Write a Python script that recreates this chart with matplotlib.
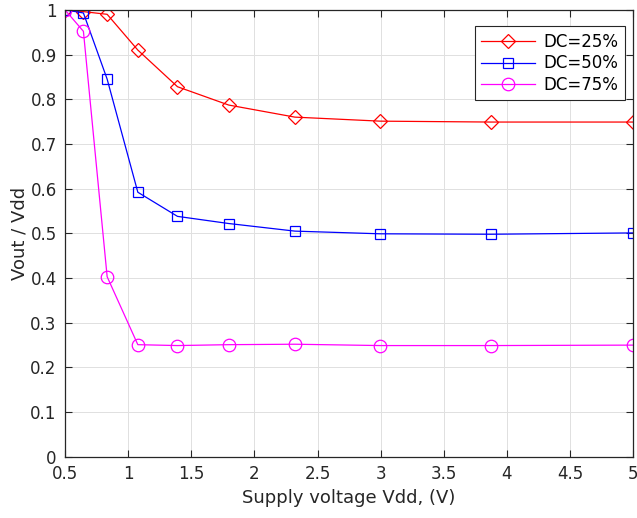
import matplotlib
matplotlib.use("Agg")
import matplotlib.pyplot as plt

vdd = [0.5, 0.646, 0.834, 1.077, 1.391, 1.797, 2.321, 2.997, 3.871, 5.0]
dc25 = [1.0, 0.996, 0.990, 0.910, 0.828, 0.787, 0.760, 0.751, 0.749, 0.749]
dc50 = [1.0, 0.993, 0.845, 0.592, 0.538, 0.522, 0.505, 0.499, 0.498, 0.501]
dc75 = [1.0, 0.952, 0.403, 0.251, 0.249, 0.251, 0.252, 0.249, 0.249, 0.250]

xticks = [0.5, 1, 1.5, 2, 2.5, 3, 3.5, 4, 4.5, 5]
yticks = [0, 0.1, 0.2, 0.3, 0.4, 0.5, 0.6, 0.7, 0.8, 0.9, 1]

axc = (0.15, 0.15, 0.15)
fig = plt.figure(figsize=(6.37, 5.18), dpi=100)
ax = fig.add_axes([0.102, 0.118, 0.892, 0.863])

ax.plot(vdd, dc25, color='red', lw=0.9, marker='D', ms=7.5, mfc='none', mew=0.9, label='DC=25%')
ax.plot(vdd, dc50, color='blue', lw=0.9, marker='s', ms=7, mfc='none', mew=0.9, label='DC=50%')
ax.plot(vdd, dc75, color='magenta', lw=0.9, marker='o', ms=9, mfc='none', mew=0.9, label='DC=75%')

ax.set_xlim(0.5, 5)
ax.set_ylim(0, 1)
ax.set_xticks(xticks)
ax.set_xticklabels([('%g' % t) for t in xticks])
ax.set_yticks(yticks)
ax.set_yticklabels([('%g' % t) for t in yticks])
ax.grid(True, color=(0.88, 0.88, 0.88), lw=0.7)
ax.set_axisbelow(True)
ax.tick_params(direction='in', length=5, width=0.8, colors=axc, labelsize=12,
               top=True, right=True, pad=6)
for s in ax.spines.values():
    s.set_color(axc)
    s.set_linewidth(0.9)

ax.set_xlabel('Supply voltage Vdd, (V)', fontsize=13, color=axc, labelpad=4)
ax.set_ylabel('Vout / Vdd', fontsize=13, color=axc, labelpad=1)

leg = ax.legend(loc='upper right', bbox_to_anchor=(0.985, 0.963), fontsize=12,
                fancybox=False, framealpha=1, edgecolor=axc, handlelength=3.2,
                borderaxespad=0, borderpad=0.4, labelspacing=0.2, handletextpad=0.5)
leg.get_frame().set_linewidth(0.8)

fig.savefig('out.png', dpi=100)
